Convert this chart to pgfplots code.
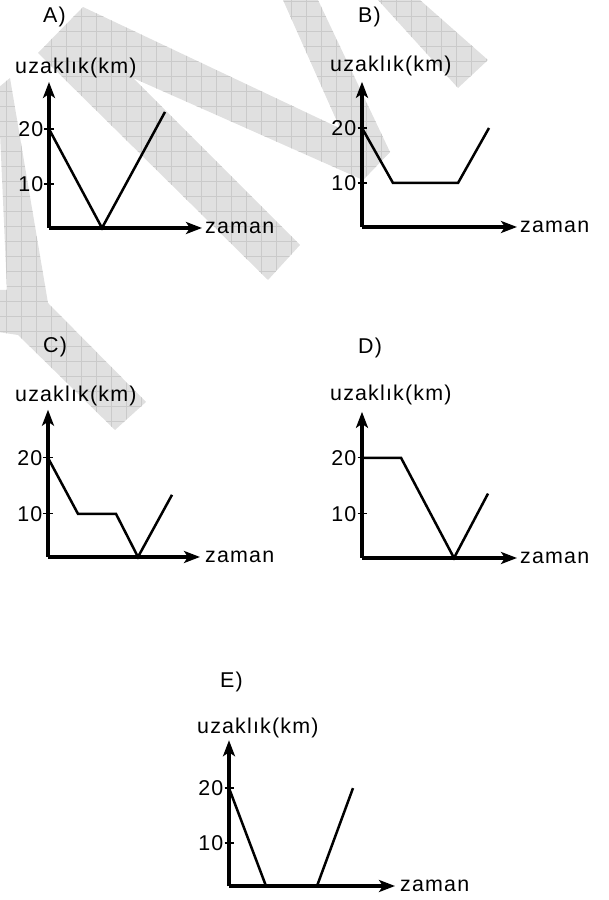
\documentclass[border=0pt]{standalone}
\usepackage{fontspec}
\setmainfont{Liberation Sans}
\newfontfamily\lab[LetterSpace=5.5]{Liberation Sans}
\usepackage{pgfplots}
\pgfplotsset{compat=1.18}
\usetikzlibrary{arrows.meta}

\definecolor{wmfill}{RGB}{224,224,224}
\definecolor{wmgrid}{RGB}{202,202,202}

\pgfplotsset{
  panel/.style={
    axis lines=left,
    x=1bp, y=5.5bp,
    xmin=0, ymin=2,
    xtick=\empty, ytick={10,20},
    axis line style={line width=3.2bp, -{Stealth[length=16bp,width=12bp,inset=4bp]}},
    tick style={black, line width=1.2bp},
    major tick length=9bp,
    tick align=center,
    /pgf/number format/assume math mode=true,
    yticklabel style={font=\fontsize{21.5}{25}\lab, inner sep=1bp},
    clip=false,
    anchor=south west,
  },
  curve/.style={black, line width=2.5bp, no markers},
}
\tikzset{txt/.style={font=\fontsize{21.5}{25}\lab, inner sep=0pt}}

\begin{document}
\begin{tikzpicture}
\useasboundingbox (0,0) rectangle (609bp,900bp);

% watermark bands (image px, y downward)
\begin{scope}[x=1bp, y=-1bp, yshift=900bp]
  \def\bandA{(38,53) -- (83,7) -- (390,152) -- (363,180) -- (133,78) -- (300,245) -- (268,280) -- cycle}
  \def\bandB{(283,0) -- (318,0) -- (390,152) -- (363,180) -- cycle}
  \def\bandC{(378,0) -- (420,0) -- (488,60) -- (458,88) -- cycle}
  \def\bandD{(-2,88) -- (10,78) -- (48,303) -- (146,402) -- (115,430) -- (18,335) -- (-2,332) -- (-2,290) -- (7,290) -- cycle}
  \foreach \b in {\bandA,\bandB,\bandC,\bandD}{
    \fill[wmfill] \b;
    \begin{scope}
      \clip \b;
      \foreach \gx in {6.7,21.7,...,500}{\draw[wmgrid, line width=0.6bp] (\gx,-5) -- (\gx,460);}
      \foreach \gy in {1.7,16.7,...,460}{\draw[wmgrid, line width=0.6bp] (-5,\gy) -- (500,\gy);}
    \end{scope}
  }
\end{scope}

% A
\begin{axis}[panel, at={(49bp,672bp)}, xmax=153, ymin=2, ymax=28.55]
\addplot[curve] coordinates {(0,20) (53,2) (116,23.1)};
\node[txt, anchor=base west, xshift=-34bp, yshift=8bp] at (rel axis cs:0,1) {uzaklık(km)};
\node[txt, anchor=base west, xshift=-6bp, yshift=59bp] at (rel axis cs:0,1) {A)};
\node[txt, anchor=base west, xshift=3bp, yshift=-5.6bp] at (rel axis cs:1,0) {zaman};
\end{axis}

% B
\begin{axis}[panel, at={(362bp,673bp)}, xmax=155, ymin=2, ymax=28.4]
\addplot[curve] coordinates {(0,20) (31,10) (96,10) (127,20)};
\node[txt, anchor=base west, xshift=-32bp, yshift=10bp] at (rel axis cs:0,1) {uzaklık(km)};
\node[txt, anchor=base west, xshift=-4bp, yshift=59bp] at (rel axis cs:0,1) {B)};
\node[txt, anchor=base west, xshift=3bp, yshift=-5.6bp] at (rel axis cs:1,0) {zaman};
\end{axis}

% C
\begin{axis}[panel, at={(48bp,343bp)}, y=5.6bp, xmax=152, ymin=2.3, ymax=28.6]
\addplot[curve] coordinates {(0,20) (30,10) (68,10) (90,2.3) (124,13.4)};
\node[txt, anchor=base west, xshift=-33bp, yshift=8bp] at (rel axis cs:0,1) {uzaklık(km)};
\node[txt, anchor=base west, xshift=-5bp, yshift=57bp] at (rel axis cs:0,1) {C)};
\node[txt, anchor=base west, xshift=5bp, yshift=-5.6bp] at (rel axis cs:1,0) {zaman};
\end{axis}

% D
\begin{axis}[panel, at={(362bp,342bp)}, y=5.6bp, xmax=155, ymin=2.1, ymax=28.2]
\addplot[curve] coordinates {(0,20) (39,20) (92,2.1) (126,13.6)};
\node[txt, anchor=base west, xshift=-32bp, yshift=11bp] at (rel axis cs:0,1) {uzaklık(km)};
\node[txt, anchor=base west, xshift=-4bp, yshift=58bp] at (rel axis cs:0,1) {D)};
\node[txt, anchor=base west, xshift=3bp, yshift=-5.6bp] at (rel axis cs:1,0) {zaman};
\end{axis}

% E
\begin{axis}[panel, at={(229bp,14bp)}, xmax=166, ymin=2.2, ymax=28.7]
\addplot[curve] coordinates {(0,20) (37,2.2) (88,2.2) (124,20)};
\node[txt, anchor=base west, xshift=-32bp, yshift=7bp] at (rel axis cs:0,1) {uzaklık(km)};
\node[txt, anchor=base west, xshift=-9bp, yshift=53bp] at (rel axis cs:0,1) {E)};
\node[txt, anchor=base west, xshift=5bp, yshift=-5.6bp] at (rel axis cs:1,0) {zaman};
\end{axis}
\end{tikzpicture}
\end{document}
